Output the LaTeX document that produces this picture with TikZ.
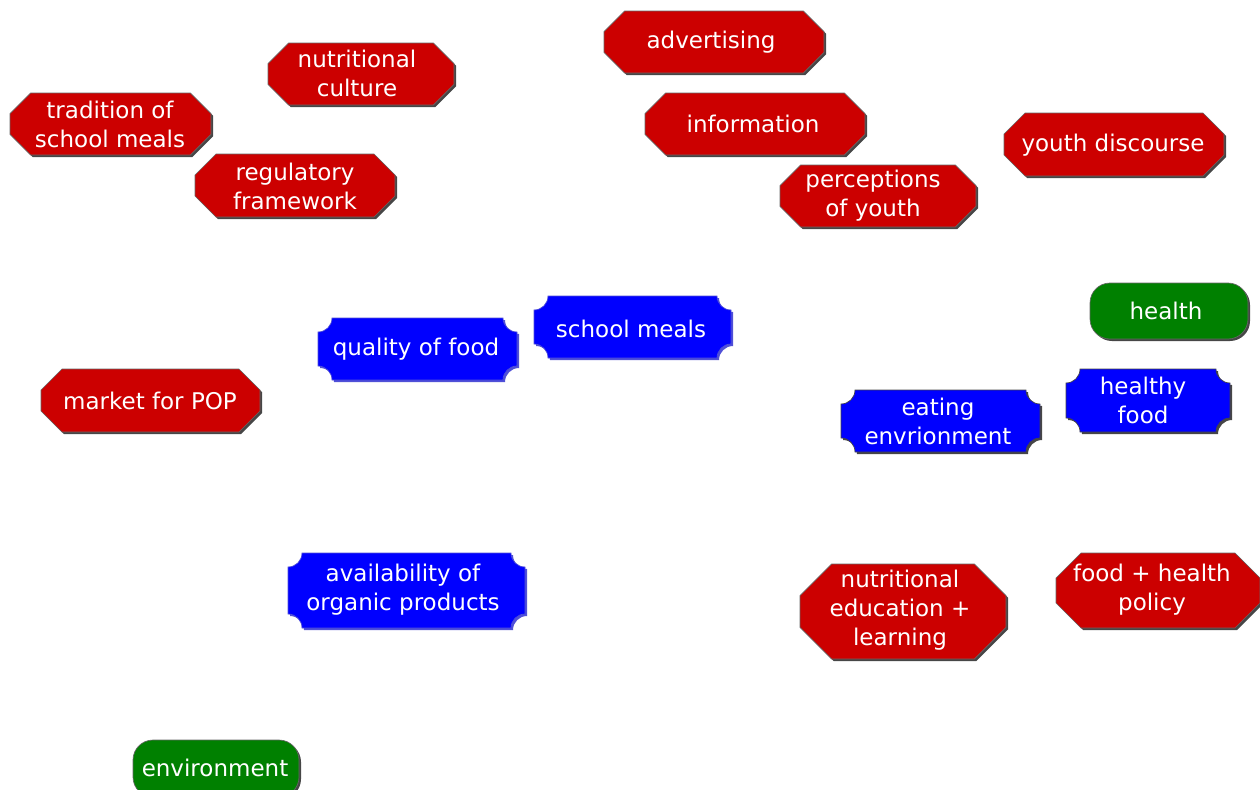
\documentclass[tikz,border=0pt]{standalone}
\usepackage{fontspec}
\setmainfont{DejaVu Sans}
\definecolor{redc}{RGB}{204,0,0}
\definecolor{bluec}{RGB}{0,0,255}
\definecolor{greenc}{RGB}{0,128,0}
\definecolor{shadowr}{RGB}{70,70,70}
\definecolor{shadowb}{RGB}{80,80,215}
\tikzset{lbl/.style={text=white,align=center,inner sep=0pt,font=\fontsize{17.25pt}{21.75pt}\selectfont}}
\newcommand\octbox[8]{%
 \pgfmathsetmacro\cc{(#5-#3)/3}%
 \fill[shadowr,shift={(2,2)}] ({#2+\cc},#3) -- ({#4-\cc},#3) -- (#4,{#3+\cc}) -- (#4,{#5-\cc}) -- ({#4-\cc},#5) -- ({#2+\cc},#5) -- (#2,{#5-\cc}) -- (#2,{#3+\cc}) -- cycle;
 \filldraw[fill=redc,draw=black!60,line width=0.5pt] ({#2+\cc},#3) -- ({#4-\cc},#3) -- (#4,{#3+\cc}) -- (#4,{#5-\cc}) -- ({#4-\cc},#5) -- ({#2+\cc},#5) -- (#2,{#5-\cc}) -- (#2,{#3+\cc}) -- cycle;
 \node[lbl] (#1) at (#6,#7) {#8};
}
\newcommand\notchbox[9][shadowb]{%
 \def\rr{14}%
 \fill[#1,shift={(2,2)}] ({#3+\rr},#4) -- ({#5-\rr},#4) .. controls ({#5-\rr},{#4+0.552*\rr}) and ({#5-0.552*\rr},{#4+\rr}) .. (#5,{#4+\rr}) -- (#5,{#6-\rr}) .. controls ({#5-0.552*\rr},{#6-\rr}) and ({#5-\rr},{#6-0.552*\rr}) .. ({#5-\rr},#6) -- ({#3+\rr},#6) .. controls ({#3+\rr},{#6-0.552*\rr}) and ({#3+0.552*\rr},{#6-\rr}) .. (#3,{#6-\rr}) -- (#3,{#4+\rr}) .. controls ({#3+0.552*\rr},{#4+\rr}) and ({#3+\rr},{#4+0.552*\rr}) .. ({#3+\rr},#4) -- cycle;
 \filldraw[fill=bluec,draw=#1,line width=0.5pt] ({#3+\rr},#4) -- ({#5-\rr},#4) .. controls ({#5-\rr},{#4+0.552*\rr}) and ({#5-0.552*\rr},{#4+\rr}) .. (#5,{#4+\rr}) -- (#5,{#6-\rr}) .. controls ({#5-0.552*\rr},{#6-\rr}) and ({#5-\rr},{#6-0.552*\rr}) .. ({#5-\rr},#6) -- ({#3+\rr},#6) .. controls ({#3+\rr},{#6-0.552*\rr}) and ({#3+0.552*\rr},{#6-\rr}) .. (#3,{#6-\rr}) -- (#3,{#4+\rr}) .. controls ({#3+0.552*\rr},{#4+\rr}) and ({#3+\rr},{#4+0.552*\rr}) .. ({#3+\rr},#4) -- cycle;
 \node[lbl] (#2) at (#7,#8) {#9};
}
\newcommand\roundbox[8]{%
 \fill[shadowr,rounded corners=15pt,shift={(2,2)}] (#2,#3) rectangle (#4,#5);
 \filldraw[fill=greenc,draw=black!60,line width=0.5pt,rounded corners=15pt] (#2,#3) rectangle (#4,#5);
 \node[lbl] (#1) at (#6,#7) {#8};
}
\begin{document}
\begin{tikzpicture}[x=0.75pt,y=-0.75pt]
\useasboundingbox (0,0) rectangle (1260,789);
\clip (0,0) rectangle (1260,789);
\octbox{trad}{10}{93}{211}{155}{110}{124}{tradition of\\school meals}
\octbox{nutcult}{268}{43}{454}{105}{357}{73}{nutritional\\culture}
\octbox{reg}{195}{154}{395}{217}{295}{186}{regulatory\\framework}
\octbox{adv}{604}{11}{824}{73}{711}{42}{advertising}
\octbox{info}{645}{93}{865}{155}{753}{124}{information}
\octbox{youth}{1004}{113}{1224}{176}{1113}{145}{youth discourse}
\octbox{perc}{780}{165}{976}{227}{873}{196}{perceptions\\of youth}
\roundbox{health}{1090}{283}{1248}{339}{1166}{311}{health}
\notchbox{schoolm}{534}{296}{731}{358}{631}{329}{school meals}
\notchbox{quality}{318}{318}{517}{380}{416}{349}{quality of food}
\octbox{market}{41}{369}{260}{432}{150}{401}{market for POP}
\notchbox[shadowr]{eating}{841}{390}{1040}{452}{938}{421}{eating\\envrionment}
\notchbox[shadowr]{healthy}{1066}{369}{1230}{432}{1143}{400}{healthy\\food}
\notchbox{avail}{288}{553}{525}{628}{403}{590}{availability of\\organic products}
\octbox{nutedu}{800}{564}{1006}{659}{900}{610}{nutritional\\education +\\learning}
\octbox{policy}{1056}{553}{1260}{628}{1152}{590}{food + health\\policy}
\roundbox{env}{133}{740}{299}{797}{215}{768}{environment}
\end{tikzpicture}
\end{document}
